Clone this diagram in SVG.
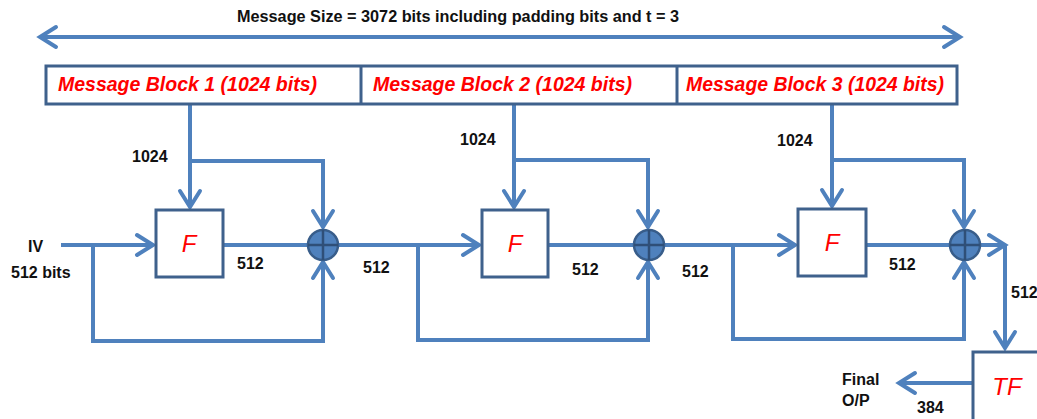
<svg xmlns="http://www.w3.org/2000/svg" width="1037" height="419" viewBox="0 0 1037 419">
<style>
.ln{fill:none;stroke:#4F81BD;stroke-width:4;stroke-linejoin:miter}
.ar{marker-end:url(#arr)}
.box{fill:#fff;stroke:#3F618C;stroke-width:3}
.lbl{font-family:"Liberation Sans",Arial,sans-serif;font-weight:bold;font-size:16px;fill:#111}
.blk{font-family:"Liberation Sans",Arial,sans-serif;font-weight:bold;font-style:italic;font-size:19.5px;fill:#FF0000}
.fn{font-family:"Liberation Sans",Arial,sans-serif;font-style:italic;font-size:24px;fill:#FF0000;text-anchor:middle}
.xor circle{fill:#4F81BD;stroke:#385D8A;stroke-width:2.5}
.xor path{stroke:#2F4F78;stroke-width:2.5;fill:none}
</style>
<defs>
<marker id="arr" markerUnits="userSpaceOnUse" viewBox="-22 -14 26 28" refX="0" refY="0" markerWidth="26" markerHeight="28" orient="auto-start-reverse" overflow="visible">
<path d="M -16 -10 L 0 0 L -16 10" fill="none" stroke="#4F81BD" stroke-width="4" stroke-linecap="round" stroke-linejoin="miter"/>
</marker>
</defs>
<rect width="1037" height="419" fill="#fff"/>

<g id="title">
<text class="lbl" x="237" y="22" textLength="442" lengthAdjust="spacingAndGlyphs">Message Size = 3072 bits including padding bits and t = 3</text>
</g>

<g id="connectors">
<line class="ln" x1="40" y1="37" x2="960" y2="37" marker-start="url(#arr)" marker-end="url(#arr)"/>
<!-- stage 1 -->
<line class="ln ar" x1="190" y1="104" x2="190" y2="207"/>
<polyline class="ln ar" points="190,161 323,161 323,227"/>
<line class="ln ar" x1="61" y1="245" x2="153" y2="245"/>
<polyline class="ln ar" points="93,245 93,341 323,341 323,262"/>
<line class="ln" x1="223" y1="245" x2="308" y2="245"/>
<!-- stage 2 -->
<line class="ln ar" x1="338" y1="245" x2="479" y2="245"/>
<polyline class="ln ar" points="418,245 418,340 648,340 648,262"/>
<line class="ln ar" x1="514" y1="104" x2="514" y2="207"/>
<polyline class="ln ar" points="514,160 648,160 648,227"/>
<line class="ln" x1="548" y1="245" x2="634" y2="245"/>
<!-- stage 3 -->
<line class="ln ar" x1="664" y1="245" x2="795" y2="245"/>
<polyline class="ln ar" points="733,245 733,339 964,339 964,262"/>
<line class="ln ar" x1="832" y1="104" x2="832" y2="206"/>
<polyline class="ln ar" points="832,160 964,160 964,227"/>
<line class="ln" x1="866" y1="245" x2="950" y2="245"/>
<!-- output -->
<line class="ln ar" x1="980" y1="245" x2="1005" y2="245"/>
<line class="ln ar" x1="1005" y1="245" x2="1005" y2="348"/>
<line class="ln ar" x1="973" y1="383" x2="899" y2="383"/>
</g>

<g id="message-blocks">
<rect class="box" x="46" y="66" width="911" height="38"/>
<line x1="361" y1="66" x2="361" y2="104" stroke="#3F618C" stroke-width="3"/>
<line x1="677" y1="66" x2="677" y2="104" stroke="#3F618C" stroke-width="3"/>
</g>
<g id="block1"><text class="blk" x="58" y="91" textLength="259" lengthAdjust="spacingAndGlyphs">Message Block 1 (1024 bits)</text></g>
<g id="block2"><text class="blk" x="373" y="91" textLength="259" lengthAdjust="spacingAndGlyphs">Message Block 2 (1024 bits)</text></g>
<g id="block3"><text class="blk" x="686" y="91" textLength="258" lengthAdjust="spacingAndGlyphs">Message Block 3 (1024 bits)</text></g>

<g id="F1"><rect class="box" x="156" y="210" width="67" height="67"/><text class="fn" x="189" y="252">F</text></g>
<g id="F2"><rect class="box" x="482" y="210" width="66" height="67"/><text class="fn" x="515" y="252">F</text></g>
<g id="F3"><rect class="box" x="798" y="209" width="68" height="67"/><text class="fn" x="832" y="251">F</text></g>

<g id="xor1" class="xor"><circle cx="323" cy="245" r="15"/><path d="M308 245 H338 M323 230 V260"/></g>
<g id="xor2" class="xor"><circle cx="649" cy="245" r="15"/><path d="M634 245 H664 M649 230 V260"/></g>
<g id="xor3" class="xor"><circle cx="965" cy="245" r="15"/><path d="M950 245 H980 M965 230 V260"/></g>

<g id="TF"><rect class="box" x="973" y="352" width="80" height="80"/><text class="fn" x="1007" y="395">TF</text></g>

<g id="labels">
<text class="lbl" x="28" y="252">IV</text>
<text class="lbl" x="11" y="278">512 bits</text>
<text class="lbl" x="132" y="162">1024</text>
<text class="lbl" x="237" y="269">512</text>
<text class="lbl" x="460" y="145">1024</text>
<text class="lbl" x="363" y="273">512</text>
<text class="lbl" x="572" y="275">512</text>
<text class="lbl" x="777" y="146">1024</text>
<text class="lbl" x="682" y="277">512</text>
<text class="lbl" x="889" y="270">512</text>
<text class="lbl" x="1011" y="298">512</text>
<text class="lbl" x="842" y="385">Final</text>
<text class="lbl" x="842" y="406">O/P</text>
<text class="lbl" x="917" y="413">384</text>
</g>
</svg>
